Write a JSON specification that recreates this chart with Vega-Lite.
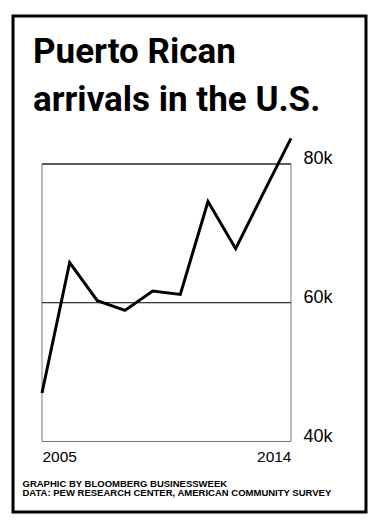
{
  "$schema": "https://vega.github.io/schema/vega-lite/v6.json",
  "width": 353,
  "height": 496,
  "autosize": {"type": "none"},
  "padding": {"left": 13, "top": 16, "right": 12, "bottom": 18},
  "background": "white",
  "title": {
    "text": ["Puerto Rican", "arrivals in the U.S."],
    "anchor": "start",
    "frame": "group",
    "orient": "top",
    "baseline": "top",
    "offset": -102,
    "dx": 20,
    "font": "Roboto",
    "fontSize": 35,
    "fontWeight": "bold",
    "lineHeight": 48,
    "color": "black"
  },
  "config": {
    "view": {"stroke": "black", "strokeWidth": 3},
    "font": "Liberation Sans"
  },
  "datasets": {
    "arrivals": [
      {"year": 2005, "arrivals": 47000},
      {"year": 2006, "arrivals": 65800},
      {"year": 2007, "arrivals": 60300},
      {"year": 2008, "arrivals": 58900},
      {"year": 2009, "arrivals": 61700},
      {"year": 2010, "arrivals": 61200},
      {"year": 2011, "arrivals": 74600},
      {"year": 2012, "arrivals": 67800},
      {"year": 2013, "arrivals": 75800},
      {"year": 2014, "arrivals": 83700}
    ],
    "box": [{"start": 2005, "end": 2014, "low": 40000, "high": 80000}],
    "lines": [
      {"start": 2005, "end": 2014, "value": 60000},
      {"start": 2005, "end": 2014, "value": 80000}
    ]
  },
  "layer": [
    {
      "data": {"name": "box"},
      "mark": {"type": "rect", "fill": null, "fillOpacity": 0, "stroke": "#777777", "strokeWidth": 1},
      "encoding": {
        "x": {"field": "start", "type": "quantitative", "scale": {"domain": [2003.952, 2016.711], "nice": false, "zero": false},
          "axis": {
            "values": [2005, 2014], "format": "d", "orient": "bottom", "offset": -70.5,
            "domain": false, "ticks": false, "grid": false,
            "labelAlign": {"expr": "datum.value == 2005 ? 'left' : 'right'"},
            "labelPadding": 7.5, "labelFontSize": 15.5, "labelColor": "black", "labelFont": "Liberation Sans",
            "title": ["GRAPHIC BY BLOOMBERG BUSINESSWEEK", "DATA: PEW RESEARCH CENTER, AMERICAN COMMUNITY SURVEY"],
            "titleAnchor": "start", "titleAlign": "left", "titleBaseline": "top",
            "titleX": 9, "titleY": 36.5, "titleFontSize": 9.5, "titleFontWeight": "bold", "titleLineHeight": 9.5,
            "titleColor": "black", "titleFont": "Liberation Sans"
          }},
        "x2": {"field": "end"},
        "y": {"field": "low", "type": "quantitative", "scale": {"domain": [29838, 101333], "nice": false, "zero": false},
          "axis": {
            "values": [40000, 60000, 80000], "format": "~s", "orient": "right", "offset": -63,
            "domain": false, "ticks": false, "grid": false,
            "labelPadding": 0, "labelOffset": -5, "labelFontSize": 18, "labelColor": "black", "labelFont": "Liberation Sans",
            "title": null
          }},
        "y2": {"field": "high"}
      }
    },
    {
      "data": {"name": "lines"},
      "mark": {"type": "rule", "color": "black", "strokeWidth": 1},
      "encoding": {
        "x": {"field": "start", "type": "quantitative"},
        "x2": {"field": "end"},
        "y": {"field": "value", "type": "quantitative"}
      }
    },
    {
      "data": {"name": "arrivals"},
      "mark": {"type": "line", "color": "black", "strokeWidth": 3, "strokeJoin": "miter"},
      "encoding": {
        "x": {"field": "year", "type": "quantitative"},
        "y": {"field": "arrivals", "type": "quantitative"}
      }
    }
  ]
}
